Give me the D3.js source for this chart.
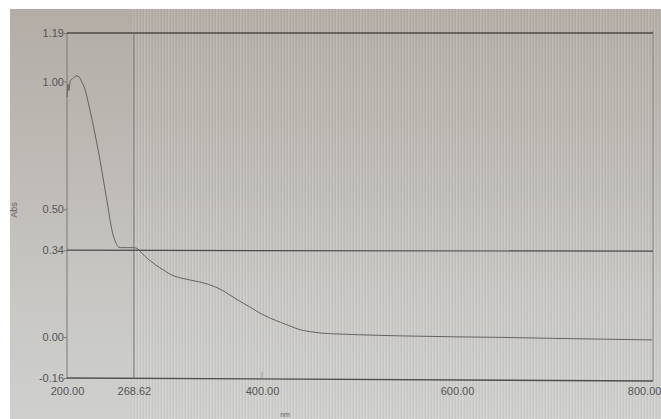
<!DOCTYPE html>
<html>
<head>
<meta charset="utf-8">
<script src="https://cdn.jsdelivr.net/npm/d3@7"></script>
<style>
  html, body { margin: 0; padding: 0; background: #ffffff; }
  svg { display: block; }
  text { font-family: "Liberation Sans Narrow", "Arial Narrow", "Liberation Sans", sans-serif; }
</style>
</head>
<body>
<svg id="chart" width="661" height="419"></svg>
<script>
// Absorbance spectrum (wavelength in nm, absorbance in Abs)
const wavelength = [200, 201, 202, 203.5, 206, 209, 212, 215, 218, 222, 226, 230, 234, 238, 242, 246,
  250, 253, 256, 262, 268, 272, 276, 280, 285, 290, 295, 300, 305, 310, 316, 322, 328, 336, 346,
  357, 367, 377, 388, 398, 408, 419, 429, 439, 450, 460, 480, 500, 540, 600, 645, 700, 750, 800];
const absorbance = [0.94, 0.99, 0.965, 1.005, 1.012, 1.022, 1.02, 1.0, 0.975, 0.915, 0.845, 0.77,
  0.69, 0.60, 0.51, 0.42, 0.37, 0.352, 0.35, 0.35, 0.35, 0.347, 0.332, 0.316, 0.30, 0.285, 0.272,
  0.26, 0.248, 0.239, 0.232, 0.227, 0.222, 0.216, 0.205, 0.188, 0.165, 0.141, 0.117, 0.094, 0.075,
  0.058, 0.043, 0.029, 0.021, 0.016, 0.012, 0.009, 0.005, 0.001, -0.001, -0.005, -0.008, -0.011];

const yTickValues = [1.19, 1.00, 0.50, 0.34, 0.00, -0.16];
const yTickLabels = ["1.19", "1.00", "0.50", "0.34", "0.00", "-0.16"];
const xTickValues = [200, 268.62, 400, 600, 800];
const xTickLabels = ["200.00", "268.62", "400.00", "600.00", "800.00"];
const cursorWavelength = 268.62;
const cursorAbs = 0.34;
const yAxisTitle = "Abs";
const xAxisTitle = "nm";

const svg = d3.select("#chart");
const W = 661, H = 419;
const plot = { left: 67, right: 653, top: 33, bottom: 378 };

const x = d3.scaleLinear().domain([200, 800]).range([plot.left, plot.right - 1]);
const y = d3.scaleLinear().domain([-0.16, 1.19]).range([plot.bottom, plot.top]);

// Screen background: warm grey at the top fading to a cooler light grey
const defs = svg.append("defs");
const bg = defs.append("linearGradient").attr("id", "bg").attr("x1", 0).attr("y1", 0).attr("x2", 0).attr("y2", 1);
bg.append("stop").attr("offset", "0%").attr("stop-color", "#b3ada6");
bg.append("stop").attr("offset", "35%").attr("stop-color", "#bdb9b4");
bg.append("stop").attr("offset", "70%").attr("stop-color", "#c8c7c4");
bg.append("stop").attr("offset", "100%").attr("stop-color", "#cfcfcd");

const stripes = defs.append("pattern").attr("id", "stripes")
  .attr("patternUnits", "userSpaceOnUse").attr("width", 3).attr("height", 10);
stripes.append("rect").attr("x", 0).attr("y", 0).attr("width", 1).attr("height", 10)
  .attr("fill", "#ffffff").attr("opacity", 0.13);
stripes.append("rect").attr("x", 2).attr("y", 0).attr("width", 1).attr("height", 10)
  .attr("fill", "#000000").attr("opacity", 0.035);

svg.append("rect").attr("x", 0).attr("y", 0).attr("width", W).attr("height", H).attr("fill", "#ffffff");
svg.append("rect").attr("x", 10).attr("y", 9).attr("width", W - 10).attr("height", H - 9).attr("fill", "url(#bg)");
svg.append("rect").attr("x", 130).attr("y", 9).attr("width", W - 130).attr("height", H - 9).attr("fill", "url(#stripes)");

// Frame: left axis, bottom axis, right edge, top limit line
const g = svg.append("g");
g.append("line").attr("x1", plot.left).attr("x2", plot.left).attr("y1", y(1.19)).attr("y2", y(-0.16))
  .attr("stroke", "#7a7875").attr("stroke-width", 1);
g.append("line").attr("x1", plot.right).attr("x2", plot.right).attr("y1", y(1.19) - 2).attr("y2", y(-0.16) + 3)
  .attr("stroke", "#8a8885").attr("stroke-width", 1);
g.append("line").attr("x1", plot.left).attr("x2", plot.right).attr("y1", y(1.19)).attr("y2", y(1.19))
  .attr("stroke", "#4e4b47").attr("stroke-width", 1.3);
g.append("line").attr("x1", plot.left).attr("x2", plot.right).attr("y1", y(-0.16)).attr("y2", y(-0.16) + 3)
  .attr("stroke", "#4f4f4f").attr("stroke-width", 1.3);

// Cursor lines
g.append("line").attr("x1", x(cursorWavelength)).attr("x2", x(cursorWavelength))
  .attr("y1", y(1.19)).attr("y2", y(-0.16))
  .attr("stroke", "#747370").attr("stroke-width", 1);
g.append("line").attr("x1", plot.left).attr("x2", plot.right).attr("y1", y(cursorAbs)).attr("y2", y(cursorAbs) + 1)
  .attr("stroke", "#4a4a4a").attr("stroke-width", 1.2);

// Y axis labels and ticks
const yAxis = d3.axisLeft(y).tickValues(yTickValues).tickSize(3)
  .tickFormat((d, i) => yTickLabels[i]);
const ya = g.append("g").attr("transform", `translate(${plot.left},0)`).call(yAxis);
ya.select(".domain").remove();
ya.selectAll(".tick line").attr("stroke", "#777");
ya.selectAll(".tick text").attr("fill", "#555").attr("font-size", 11).attr("x", -3)
  .attr("font-family", "'Liberation Sans Narrow', 'Arial Narrow', sans-serif");

// X axis labels
const xAxis = d3.axisBottom(x).tickValues(xTickValues).tickSize(0)
  .tickFormat((d, i) => xTickLabels[i]);
const xa = g.append("g").attr("transform", `translate(0,${plot.bottom + 4})`).call(xAxis);
xa.select(".domain").remove();
xa.selectAll(".tick text").attr("fill", "#555").attr("font-size", 11).attr("dy", "0.95em")
  .attr("font-family", "'Liberation Sans Narrow', 'Arial Narrow', sans-serif");
// keep the last label inside the window
xa.selectAll(".tick text").filter(d => d === 800).attr("text-anchor", "end").attr("x", 661 - x(800));

// small tick at 400 nm on the baseline
g.append("line").attr("x1", x(400)).attr("x2", x(400)).attr("y1", y(-0.16) - 6).attr("y2", y(-0.16))
  .attr("stroke", "#999").attr("stroke-width", 1);

// Axis titles
svg.append("text").attr("transform", `translate(17,210) rotate(-90)`).attr("text-anchor", "middle")
  .attr("font-size", 9).attr("fill", "#666").text(yAxisTitle);
svg.append("text").attr("x", 285).attr("y", 417).attr("text-anchor", "middle")
  .attr("font-size", 7).attr("fill", "#666").text(xAxisTitle);

// Spectrum curve
const pts = wavelength.map((w, i) => [w, absorbance[i]]);
const line = d3.line().x(d => x(d[0])).y(d => y(d[1])).curve(d3.curveMonotoneX);
g.append("path").datum(pts).attr("d", line).attr("fill", "none")
  .attr("stroke", "#5f5e5b").attr("stroke-width", 0.95);
</script>
</body>
</html>
